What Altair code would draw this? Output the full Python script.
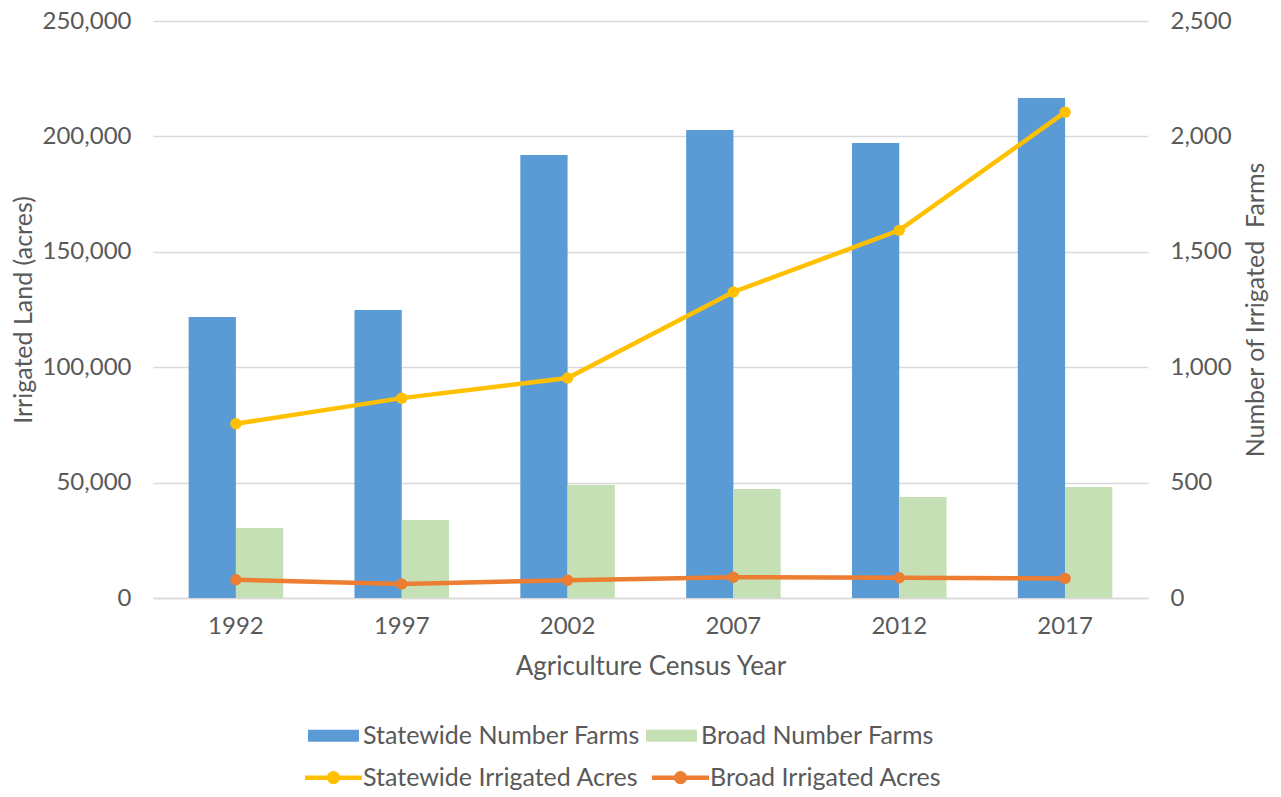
import math
import altair as alt
import pandas as pd

years = ["1992", "1997", "2002", "2007", "2012", "2017"]
statewide_farms = [1218, 1248, 1919, 2028, 1971, 2166]
broad_farms = [303, 338, 490, 472, 438, 481]
statewide_acres = [75500, 86600, 95300, 132600, 159300, 210500]
broad_acres = [7900, 6100, 7700, 9000, 8800, 8500]

bar_series = ["Statewide Number Farms", "Broad Number Farms"]
line_series = ["Statewide Irrigated Acres", "Broad Irrigated Acres"]
bar_colors = ["#5B9BD5", "#C5E0B4"]
line_colors = ["#FFC000", "#ED7D31"]

rows = []
for i, y in enumerate(years):
    rows.append({"year": y, "series": bar_series[0], "value": statewide_farms[i], "kind": "farms"})
    rows.append({"year": y, "series": bar_series[1], "value": broad_farms[i], "kind": "farms"})
    rows.append({"year": y, "series": line_series[0], "value": statewide_acres[i], "kind": "acres"})
    rows.append({"year": y, "series": line_series[1], "value": broad_acres[i], "kind": "acres"})
df = pd.DataFrame(rows)

FONT = "Lato"
TXT = "#595959"
SYM = 324  # 18px nominal symbol box; paths drawn wider than the box


def ring(rad, n=16):
    pts = [(rad * math.cos(2 * math.pi * k / n), rad * math.sin(2 * math.pi * k / n)) for k in range(n)]
    return "M" + "L".join(f"{px:.3f},{py:.3f}" for px, py in pts) + "Z"


rect_path = "M-2.83,-0.67H2.83V0.67H-2.83Z"
line_path = "M-3.17,0H3.17 " + ring(0.472) + " " + ring(0.222)

x_enc = alt.X("year:N", sort=years,
              scale=alt.Scale(paddingInner=0.43, paddingOuter=0.215),
              axis=alt.Axis(title="Agriculture Census Year", labelAngle=0, ticks=False,
                            domainColor="#D9D9D9", domainWidth=1.3, labelPadding=16,
                            titlePadding=15, labelFontSize=24, titleFontSize=26, grid=False))

fill_scale = alt.Scale(domain=bar_series + line_series, range=bar_colors + line_colors)
fill_legend = alt.Legend(title=None, orient="none", columns=2, legendX=168, legendY=702,
                         values=bar_series, symbolType=rect_path, symbolSize=SYM,
                         symbolStrokeWidth=0, symbolOpacity=1, labelLimit=500,
                         labelFontSize=25, labelColor=TXT, labelFont=FONT,
                         labelOffset=17, columnPadding=6)

y_acres = alt.Y("value:Q", scale=alt.Scale(domain=[0, 250000], nice=False),
                axis=alt.Axis(orient="left", title="Irrigated Land (acres)", format=",.0f",
                              values=[0, 50000, 100000, 150000, 200000, 250000], grid=True,
                              gridColor="#D9D9D9", gridWidth=1.3, ticks=False, domain=False,
                              labelPadding=22, titlePadding=6,
                              labelFontSize=24, titleFontSize=25))

bars = alt.Chart(df).transform_filter(alt.datum.kind == "farms").mark_bar().encode(
    x=x_enc,
    xOffset=alt.XOffset("series:N", sort=bar_series,
                        scale=alt.Scale(paddingInner=0, paddingOuter=0)),
    y=alt.Y("value:Q", scale=alt.Scale(domain=[0, 2500], nice=False),
            axis=alt.Axis(orient="right", title="Number of Irrigated\u00a0 Farms", format=",.0f",
                          values=[0, 500, 1000, 1500, 2000, 2500], grid=False, ticks=False,
                          domain=False, labelPadding=22, titlePadding=12, titleAngle=270,
                          titleBaseline="top", labelFontSize=24, titleFontSize=25)),
    fill=alt.Fill("series:N", scale=fill_scale, legend=fill_legend),
)

lines = alt.Chart(df).transform_filter(alt.datum.kind == "acres").mark_line(
    strokeWidth=4.5).encode(
    x=x_enc,
    y=y_acres,
    stroke=alt.Stroke("series:N", scale=alt.Scale(domain=line_series, range=line_colors),
                      legend=alt.Legend(title=None, orient="none", columns=2,
                                        legendX=168, legendY=744,
                                        symbolType=line_path, symbolSize=SYM,
                                        symbolStrokeWidth=4.5, symbolFillColor="transparent",
                                        symbolOpacity=1, labelLimit=500,
                                        labelFontSize=25, labelColor=TXT, labelFont=FONT,
                                        labelOffset=17, columnPadding=3)),
)

points = alt.Chart(df).transform_filter(alt.datum.kind == "acres").mark_point(
    filled=True, size=130, opacity=1).encode(
    x=x_enc,
    y=y_acres,
    fill=alt.Fill("series:N", scale=fill_scale, legend=fill_legend),
)

chart = alt.layer(bars, alt.layer(lines, points)).resolve_scale(y="independent").properties(
    width=995, height=577,
    padding={"left": 3, "top": 1, "right": 0, "bottom": -1},
).configure_axis(
    labelColor=TXT, titleColor=TXT, labelFont=FONT, titleFont=FONT,
    titleFontWeight="normal"
).configure_view(stroke=None).configure_legend(labelFont=FONT)

chart.save("out.html", embed_options={"renderer": "svg", "actions": False})
